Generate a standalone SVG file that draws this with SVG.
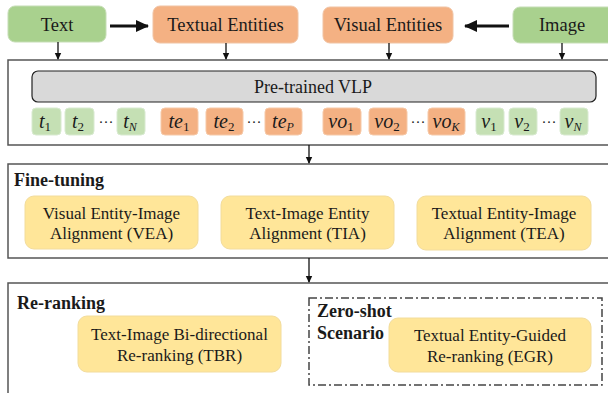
<svg xmlns="http://www.w3.org/2000/svg" width="608" height="393" viewBox="0 0 608 393">
<style>
text{font-family:"Liberation Serif","DejaVu Serif",serif;fill:#1a1a1a}
.top{font-size:18.5px;text-anchor:middle}
.g{fill:#a9d18e;stroke:#c5ddb5;stroke-width:1}
.o{fill:#f4b183;stroke:#f0c3a3;stroke-width:1}
.tg{fill:#c5e0b4;stroke:#d8ead0;stroke-width:1}
.to{fill:#f4b183;stroke:#f6c9a8;stroke-width:1}
.y{fill:#ffe699;stroke:#f2dc9c;stroke-width:1}
.frame{fill:#fff;stroke:#555;stroke-width:1.5}
.tok{font-size:20px;font-style:italic;text-anchor:middle}
.sub{font-size:13px;font-style:normal}
.subi{font-size:12px}
.dots{font-size:15px;text-anchor:middle}
.lbl{font-size:17px;text-anchor:middle}
.hd{font-size:18px;font-weight:bold}
.ln{stroke:#111;stroke-width:1.3;fill:none}
.thick{stroke:#111;stroke-width:3;fill:none}
</style>
<defs>
<marker id="ah" markerWidth="8" markerHeight="8" refX="6" refY="4" orient="auto" markerUnits="userSpaceOnUse"><path d="M0,0.8 L7,4 L0,7.2 Z" fill="#111"/></marker>
<marker id="ahb" markerWidth="14" markerHeight="12" refX="12" refY="6" orient="auto" markerUnits="userSpaceOnUse"><path d="M0,0 L13,6 L0,12 Z" fill="#111"/></marker>
</defs>

<g id="frames">
<rect id="vlp-frame" class="frame" x="8" y="60" width="610" height="85"/>
<rect id="ft-frame" class="frame" x="8" y="164" width="610" height="94"/>
<rect id="rr-frame" class="frame" x="8" y="283" width="610" height="120"/>
</g>

<g id="text-node"><rect class="g" x="8" y="6" width="98" height="36" rx="7"/><text class="top" x="57" y="31">Text</text></g>
<g id="textual-entities"><rect class="o" x="153" y="6" width="145" height="37" rx="7"/><text class="top" x="225.5" y="31">Textual Entities</text></g>
<g id="visual-entities"><rect class="o" x="323" y="7" width="130" height="36" rx="7"/><text class="top" x="388" y="31">Visual Entities</text></g>
<g id="image-node"><rect class="g" x="513" y="7" width="105" height="36" rx="7"/><text class="top" x="562" y="31">Image</text></g>

<g id="connectors">
<line class="thick" x1="110" y1="26" x2="148" y2="26" marker-end="url(#ahb)"/>
<line class="thick" x1="509" y1="26" x2="465" y2="26" marker-end="url(#ahb)"/>
<line class="ln" x1="58" y1="42" x2="58" y2="59" marker-end="url(#ah)"/>
<line class="ln" x1="226" y1="43" x2="226" y2="59" marker-end="url(#ah)"/>
<line class="ln" x1="389" y1="43" x2="389" y2="59" marker-end="url(#ah)"/>
<line class="ln" x1="562" y1="43" x2="562" y2="59" marker-end="url(#ah)"/>
<line class="ln" x1="309" y1="145" x2="309" y2="163" marker-end="url(#ah)"/>
<line class="ln" x1="309" y1="258" x2="309" y2="282" marker-end="url(#ah)"/>
</g>

<g id="vlp"><rect x="32" y="71" width="564" height="31" rx="6" fill="#d9d9d9" stroke="#222" stroke-width="1.2"/><text x="313" y="93" font-size="18" text-anchor="middle">Pre-trained VLP</text></g>

<g id="tokens">
<rect class="tg" x="32" y="108" width="29" height="27" rx="4"/><text class="tok" x="45" y="128">t<tspan class="sub" dy="3">1</tspan></text>
<rect class="tg" x="65" y="108" width="29" height="27" rx="4"/><text class="tok" x="78" y="128">t<tspan class="sub" dy="3">2</tspan></text>
<text class="dots" x="106" y="127">···</text>
<rect class="tg" x="117" y="108" width="28" height="27" rx="4"/><text class="tok" x="130" y="128">t<tspan class="subi" dy="3">N</tspan></text>

<rect class="to" x="161" y="108" width="37" height="27" rx="4"/><text class="tok" x="179" y="128">te<tspan class="sub" dy="3">1</tspan></text>
<rect class="to" x="206" y="108" width="37" height="27" rx="4"/><text class="tok" x="224" y="128">te<tspan class="sub" dy="3">2</tspan></text>
<text class="dots" x="254" y="127">···</text>
<rect class="to" x="265" y="108" width="37" height="27" rx="4"/><text class="tok" x="283" y="128">te<tspan class="subi" dy="3">P</tspan></text>

<rect class="to" x="323" y="108" width="38" height="27" rx="4"/><text class="tok" x="341" y="128">vo<tspan class="sub" dy="3">1</tspan></text>
<rect class="to" x="369" y="108" width="38" height="27" rx="4"/><text class="tok" x="387" y="128">vo<tspan class="sub" dy="3">2</tspan></text>
<text class="dots" x="418" y="127">···</text>
<rect class="to" x="428" y="108" width="37" height="27" rx="4"/><text class="tok" x="446" y="128">vo<tspan class="subi" dy="3">K</tspan></text>

<rect class="tg" x="476" y="108" width="28" height="27" rx="4"/><text class="tok" x="489" y="128">v<tspan class="sub" dy="3">1</tspan></text>
<rect class="tg" x="509" y="108" width="28" height="27" rx="4"/><text class="tok" x="522" y="128">v<tspan class="sub" dy="3">2</tspan></text>
<text class="dots" x="549" y="127">···</text>
<rect class="tg" x="560" y="108" width="28" height="27" rx="4"/><text class="tok" x="573" y="128">v<tspan class="subi" dy="3">N</tspan></text>
</g>

<text class="hd" x="14" y="186">Fine-tuning</text>
<g id="vea"><rect class="y" x="25" y="196" width="173" height="53" rx="9"/><text class="lbl" x="111.5" y="219">Visual Entity-Image</text><text class="lbl" x="111.5" y="239">Alignment (VEA)</text></g>
<g id="tia"><rect class="y" x="221" y="196" width="173" height="53" rx="9"/><text class="lbl" x="307.5" y="219">Text-Image Entity</text><text class="lbl" x="307.5" y="239">Alignment (TIA)</text></g>
<g id="tea"><rect class="y" x="417" y="196" width="174" height="54" rx="9"/><text class="lbl" x="504" y="219">Textual Entity-Image</text><text class="lbl" x="504" y="239">Alignment (TEA)</text></g>

<text class="hd" x="17" y="309">Re-ranking</text>
<g id="tbr"><rect class="y" x="78" y="316" width="203" height="56" rx="9"/><text class="lbl" x="179.5" y="340">Text-Image Bi-directional</text><text class="lbl" x="179.5" y="361">Re-ranking (TBR)</text></g>

<g id="zero-shot">
<rect x="309" y="298" width="293" height="87" fill="none" stroke="#444" stroke-width="1.5" stroke-dasharray="8,3,2,3"/>
<text class="hd" x="317" y="317">Zero-shot</text>
<text class="hd" x="317" y="339">Scenario</text>
</g>
<g id="egr"><rect class="y" x="389" y="318" width="202" height="54" rx="9"/><text class="lbl" x="490" y="341">Textual Entity-Guided</text><text class="lbl" x="490" y="362">Re-ranking (EGR)</text></g>
</svg>
